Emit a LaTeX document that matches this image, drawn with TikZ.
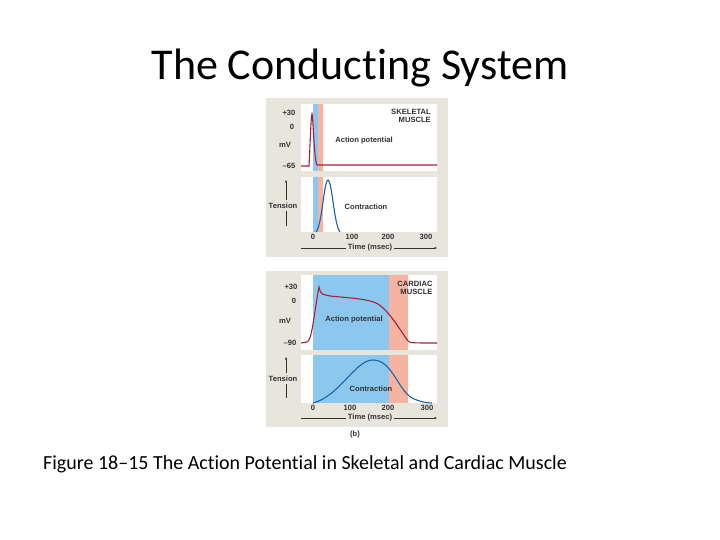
\documentclass[tikz,border=0pt]{standalone}
\usepackage{fontspec}
\setmainfont[RawFeature=-liga]{Carlito}
\newfontfamily\lab{Liberation Sans}
\usetikzlibrary{arrows.meta}
\definecolor{beige}{RGB}{232,230,220}
\definecolor{bandblue}{RGB}{140,200,238}
\definecolor{salmon}{RGB}{246,180,160}
\definecolor{apred}{RGB}{170,30,60}
\definecolor{ctblue}{RGB}{25,100,170}
\definecolor{txt}{RGB}{50,50,50}
\tikzset{
 lbl/.style={font=\lab\bfseries\fontsize{7.6}{8.6}\selectfont,text=txt,inner sep=0pt},
 apc/.style={draw=apred,line width=1.1pt},
 ctc/.style={draw=ctblue,line width=1.1pt},
 ax/.style={draw=txt,line width=0.4pt},
}
\begin{document}
\begin{tikzpicture}[x=1pt,y=-1pt]
\useasboundingbox (0,0) rectangle (720,540);
\node[font=\fontsize{44}{48}\selectfont,inner sep=0pt] (title) at (360,68) {The Conducting System};
\node[font=\fontsize{20}{24}\selectfont,anchor=west,inner sep=0pt] (cap) at (43,464) {Figure 18--15 The Action Potential in Skeletal and Cardiac Muscle};
% ===== skeletal =====
\fill[beige] (266,98) rectangle (448,257);
\fill[white] (301,104) rectangle (437,171);
\fill[white] (301,177) rectangle (437,232);
\fill[bandblue] (313,104) rectangle (318,171);
\fill[salmon] (318,104) rectangle (323,171);
\fill[bandblue] (313,177) rectangle (318,232);
\fill[salmon] (318,177) rectangle (323,232);
\draw[apc] (301,166) -- (309,166) .. controls (310,150) and (311,114) .. (312,114) .. controls (313,114) and (314,160) .. (317,165) -- (437,165);
\draw[ctc] (316,232) .. controls (322,226) and (324,180) .. (328,180) .. controls (332,180) and (334,225) .. (340,232);
\node[lbl] (s30) at (289,113) {+30};
\node[lbl] (s0) at (292,127) {0};
\node[lbl] (smv) at (285,145) {mV};
\node[lbl] (s65) at (289,166) {–65};
\node[lbl,align=right] (sk) at (411,116) {SKELETAL\\MUSCLE};
\node[lbl] (sap) at (364,141) {Action potential};
\node[lbl] (sten) at (283,206) {Tension};
\coordinate (sa1) at (286,200); \coordinate (sa2) at (286,180);
\draw[ax,-{Stealth[length=3pt]}] (sa1) -- (sa2);
\draw[ax] (286,211) -- (286,226);
\node[lbl] (scon) at (366,207) {Contraction};
\node[lbl] (sx0) at (313,237) {0};
\node[lbl] (sx1) at (352,237) {100};
\node[lbl] (sx2) at (388,237) {200};
\node[lbl] (sx3) at (426,237) {300};
\node[lbl] (stime) at (370,248) {Time (msec)};
\draw[ax] (301,248) -- ([xshift=-2pt]stime.west);
\draw[ax,-{Stealth[length=3pt]}] ([xshift=2pt]stime.east) -- (437,248);
% ===== cardiac =====
\fill[beige] (266,271) rectangle (448,427);
\fill[white] (301,275) rectangle (437,350);
\fill[white] (301,355) rectangle (437,403);
\fill[bandblue] (313,275) rectangle (389,350);
\fill[salmon] (389,275) rectangle (408,350);
\fill[bandblue] (313,355) rectangle (389,403);
\fill[salmon] (389,355) rectangle (408,403);
\draw[apc] (301,343) -- (307,342) .. controls (312,340) and (313,320) .. (319,287) .. controls (321,296) and (323,294) .. (330,296) .. controls (350,298) and (370,299) .. (378,304) .. controls (390,312) and (400,330) .. (408,341) .. controls (410,343) and (412,343) .. (437,343);
\draw[ctc] (313,403) .. controls (340,396) and (355,360) .. (373,360) .. controls (392,360) and (398,390) .. (412,398) .. controls (420,402) and (428,403) .. (432,403);
\node[lbl] (c30) at (291,287) {+30};
\node[lbl] (c0) at (294,301) {0};
\node[lbl] (cmv) at (285,321) {mV};
\node[lbl] (c90) at (290,343) {–90};
\node[lbl,align=right] (ck) at (415,288) {CARDIAC\\MUSCLE};
\node[lbl] (cap2) at (354,320) {Action potential};
\node[lbl] (cten) at (283,379) {Tension};
\coordinate (ca1) at (286,373); \coordinate (ca2) at (286,357);
\draw[ax,-{Stealth[length=3pt]}] (ca1) -- (ca2);
\draw[ax] (286,384) -- (286,398);
\node[lbl] (ccon) at (371,389) {Contraction};
\node[lbl] (cx0) at (313,408) {0};
\node[lbl] (cx1) at (350,408) {100};
\node[lbl] (cx2) at (388,408) {200};
\node[lbl] (cx3) at (427,408) {300};
\node[lbl] (ctime) at (370,418) {Time (msec)};
\draw[ax] (301,418) -- ([xshift=-2pt]ctime.west);
\draw[ax,-{Stealth[length=3pt]}] ([xshift=2pt]ctime.east) -- (437,418);
\node[lbl] (b) at (355,435) {(b)};
\end{tikzpicture}
\end{document}
